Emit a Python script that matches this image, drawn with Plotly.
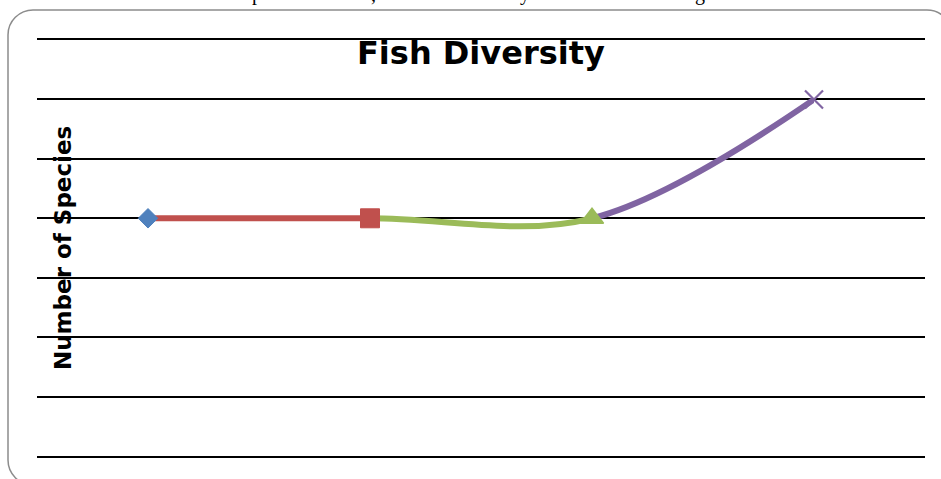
import plotly.graph_objects as go

# ---- data ----
sites = ["Site 1", "Site 2", "Site 3", "Site 4"]
species = [4, 4, 4, 6]
point_colors = ["#4F81BD", "#C0504D", "#9BBB59", "#8064A2"]
point_symbols = ["diamond", "square", "triangle-up", "x-thin-open"]
point_sizes = [15, 19, 20, 18]
y_max = 7

chart_title = "Fish Diversity"
y_title = "Number of Species"

# ---- page geometry ----
W, H = 941, 479
L, R, T, B = 37, 16, 40, 23
pw, ph = W - L - R, H - T - B


def fx(px):
    return (px - L) / pw


def fy(py):
    return (H - B - py) / ph


n = len(sites)
xs = list(range(n))

fig = go.Figure()

# empty trace so the main subplot (gridlines, rules) gets drawn
fig.add_trace(go.Scatter(x=xs, y=species, mode="none", hoverinfo="skip",
                         showlegend=False))

# Smoothed line with one colour per segment: every segment is drawn on its own
# sub-axis whose domain spans just that segment, so the full spline is clipped.
for i in range(n - 1):
    k = i + 2
    fig.add_trace(go.Scatter(
        x=xs, y=species, mode="lines",
        line=dict(color=point_colors[i + 1], width=6, shape="spline",
                  smoothing=1, simplify=False),
        xaxis=f"x{k}", yaxis=f"y{k}", hoverinfo="skip", showlegend=False,
    ))
    fig.layout[f"xaxis{k}"] = dict(domain=[(i + 0.5) / n, (i + 1.5) / n],
                                   range=[i, i + 1], visible=False,
                                   showgrid=False, zeroline=False,
                                   anchor=f"y{k}")
    fig.layout[f"yaxis{k}"] = dict(domain=[0, 1], range=[0, y_max],
                                   visible=False, showgrid=False,
                                   zeroline=False, anchor=f"x{k}")

# markers on top of all segments
mk = n + 1
fig.add_trace(go.Scatter(
    x=xs, y=species, mode="markers", text=sites,
    marker=dict(symbol=point_symbols, color=point_colors, size=point_sizes,
                opacity=1,
                line=dict(color=point_colors, width=[1, 1, 1.5, 2.2])),
    xaxis=f"x{mk}", yaxis=f"y{mk}", showlegend=False,
))
fig.layout[f"xaxis{mk}"] = dict(domain=[0, 1], range=[-0.5, n - 0.5],
                                visible=False, showgrid=False, zeroline=False,
                                anchor=f"y{mk}")
fig.layout[f"yaxis{mk}"] = dict(domain=[0, 1], range=[0, y_max], visible=False,
                                showgrid=False, zeroline=False,
                                anchor=f"x{mk}")

# main axes carry the gridlines and the top/bottom rules
fig.update_layout(
    xaxis=dict(domain=[0, 1], range=[-0.5, n - 0.5], showgrid=False,
               showticklabels=False, ticks="", zeroline=False,
               showline=True, mirror=True, linecolor="#000", linewidth=2),
    yaxis=dict(domain=[0, 1], range=[0, y_max], dtick=1, showgrid=True,
               gridcolor="#000", gridwidth=2, showticklabels=False,
               ticks="", zeroline=False, showline=False),
)

# rounded chart frame
x0, y0, x1, y1, r = 8, 10, 952, 485, 25
kk = 0.5523 * r
path = (
    f"M {fx(x0 + r)},{fy(y0)} L {fx(x1 - r)},{fy(y0)} "
    f"C {fx(x1 - r + kk)},{fy(y0)} {fx(x1)},{fy(y0 + r - kk)} {fx(x1)},{fy(y0 + r)} "
    f"L {fx(x1)},{fy(y1 - r)} "
    f"C {fx(x1)},{fy(y1 - r + kk)} {fx(x1 - r + kk)},{fy(y1)} {fx(x1 - r)},{fy(y1)} "
    f"L {fx(x0 + r)},{fy(y1)} "
    f"C {fx(x0 + r - kk)},{fy(y1)} {fx(x0)},{fy(y1 - r + kk)} {fx(x0)},{fy(y1 - r)} "
    f"L {fx(x0)},{fy(y0 + r)} "
    f"C {fx(x0)},{fy(y0 + r - kk)} {fx(x0 + r - kk)},{fy(y0)} {fx(x0 + r)},{fy(y0)} Z"
)
fig.add_shape(type="path", path=path, xref="paper", yref="paper",
              line=dict(color="#8c8c8c", width=1.5), layer="below")

annotations = [
    dict(text=f"<b>{chart_title}</b>", x=0.5, y=fy(53), xref="paper",
         yref="paper", xanchor="center", yanchor="middle", showarrow=False,
         font=dict(family="DejaVu Sans", size=32, color="#000")),
    dict(text=f"<b>{y_title}</b>", x=fx(63), y=0.5, xref="paper",
         yref="paper", xanchor="center", yanchor="middle", textangle=-90,
         showarrow=False,
         font=dict(family="DejaVu Sans", size=23, color="#000")),
]
# tail ends of the running text line just above the chart frame
for ch, px in [("p", 257), (",", 373), ("y", 525), ("g", 700)]:
    annotations.append(dict(text=ch, x=fx(px), y=fy(7), xref="paper",
                            yref="paper", xanchor="center", yanchor="bottom",
                            showarrow=False,
                            font=dict(family="Liberation Serif", size=20,
                                      color="#000")))

fig.update_layout(
    width=W, height=H,
    margin=dict(l=L, r=R, t=T, b=B, pad=0),
    paper_bgcolor="#fff", plot_bgcolor="rgba(0,0,0,0)",
    showlegend=False, annotations=annotations,
)

fig.write_html("out.html")
